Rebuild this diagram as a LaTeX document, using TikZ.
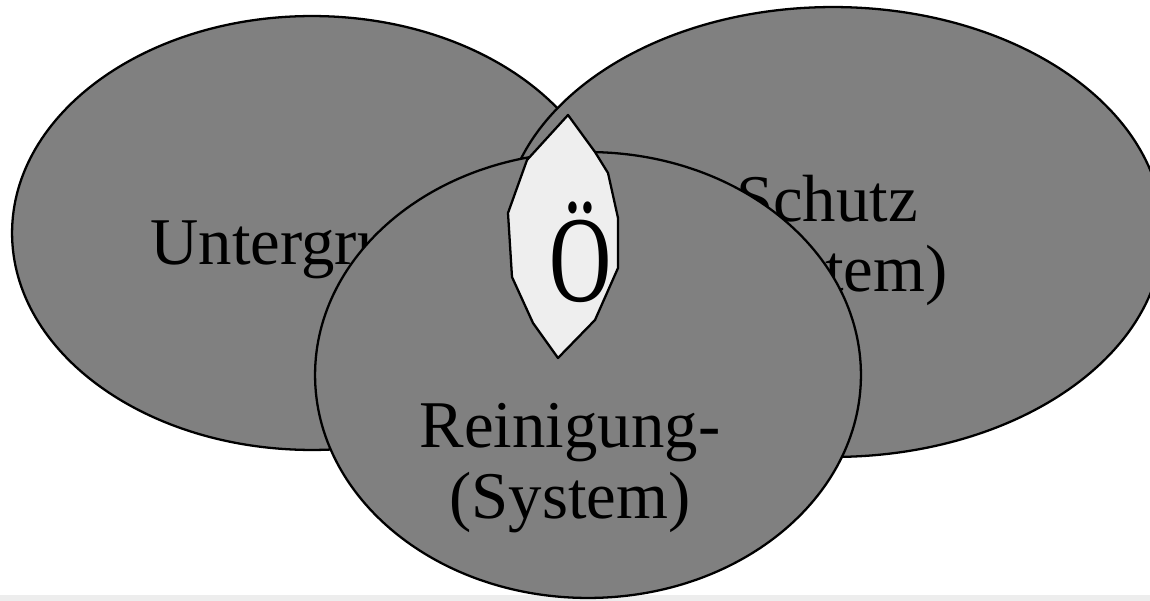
\documentclass[tikz,border=0pt]{standalone}
\usepackage{fontspec}
\setmainfont{Liberation Serif}
\usetikzlibrary{shapes.geometric}
\definecolor{setgray}{HTML}{808080}
\definecolor{lensgray}{HTML}{EEEEEE}
\definecolor{stripgray}{HTML}{EDEDED}
\begin{document}
\begin{tikzpicture}[
  x=0.02cm, y=-0.02cm,
  set/.style={ellipse, draw, fill=setgray, line width=1.3pt, inner sep=0pt},
  settext/.style={font=\fontsize{38}{40}\selectfont, align=center, inner sep=0pt},
  lens/.style={draw, fill=lensgray, line width=1.3pt, line join=round}
]
\useasboundingbox (0,0) rectangle (1150,601);
\fill[stripgray] (0,595) rectangle (1150,601);

% the three sets
\node[set, minimum width=12cm, minimum height=8.68cm] (untergrund) at (312,233) {};
\node[settext, anchor=base] (untergrundtext) at (304,265) {Untergrund};
\node[set, minimum width=13.2cm, minimum height=9cm] (schutz) at (833,232) {};
\node[settext, anchor=base] (schutztext) at (827,292) {Schutz\\(System)};
\node[set, minimum width=10.92cm, minimum height=8.92cm] (reinigung) at (588,375) {};
\node[settext, anchor=base] (reinigungtext) at (570,518) {Reinigung-\\(System)};

% overlap of Untergrund and Schutz
\draw[lens] (568,115) -- (595,152) -- (608,173) -- (618,218) -- (618,268)
  -- (595,320) -- (558,358) -- (533,323) -- (512,277) -- (508,213)
  -- (527,160) -- cycle;
\node[font=\fontsize{70}{70}\selectfont, anchor=base, inner sep=0pt] (oe) at (581,302) {\scalebox{.7}[1]{Ö}};
\end{tikzpicture}
\end{document}
